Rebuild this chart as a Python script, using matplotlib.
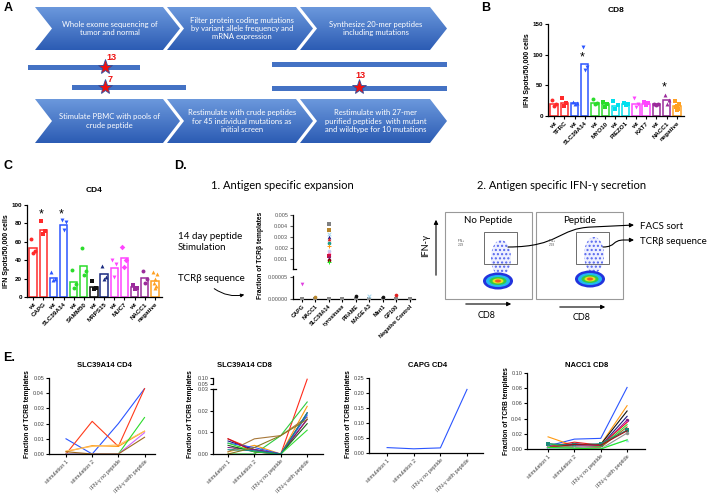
import numpy as np
import matplotlib
matplotlib.use('Agg')
import matplotlib.pyplot as plt
from matplotlib.patches import Polygon, Ellipse, Rectangle, FancyArrowPatch
from matplotlib.path import Path
from matplotlib.colors import LinearSegmentedColormap

plt.rcParams['font.family'] = ['Liberation Sans', 'DejaVu Sans']

# ---------------- data ----------------
# panel B (CD8 ELISpot)
b_labels = ['wt', 'TFRC', 'wt', 'SLC39A14', 'wt', 'MYO10', 'wt', 'PIEZO1',
            'wt', 'KAT7', 'wt', 'NACC1', 'negative']
b_means = [20, 22, 22, 85, 22, 19, 17, 19, 19, 20, 19, 26, 16]
b_points = [[26, 20, 16], [29, 22, 17], [23, 21, 19], [113, 80, 75],
            [28, 21, 19], [23, 19, 15], [24, 18, 12], [21, 19, 18],
            [30, 19, 14], [23, 21, 18], [20, 19, 18], [34, 26, 20],
            [25, 20, 16, 14, 12, 10]]
b_colors = ['#ff2a2a', '#ff2a2a', '#2b55ff', '#2b55ff', '#2bdc2b', '#2bdc2b',
            '#00e0ee', '#00e0ee', '#ff44ff', '#ff44ff', '#9b2b9b', '#9b2b9b', '#ffa020']
b_markers = ['o', 's', '^', 'v', 'o', 's', 's', 's', 'v', 's', 'o', '^', 's']
b_stars = [3, 11]

# panel C (CD4 ELISpot)
c_labels = ['wt', 'CAPG', 'wt', 'SLC39A14', 'wt', 'SAMM50', 'wt', 'MRPS15',
            'wt', 'MUC7', 'wt', 'NACC1', 'negative']
c_means = [53, 73, 21, 78, 16, 34, 11, 25, 31, 42, 11, 21, 17]
c_points = [[63, 50, 48], [83, 72, 68], [27, 20, 18], [84, 82, 73],
            [29, 14, 10], [53, 28, 24], [17, 10, 9], [34, 22, 20],
            [40, 36, 22], [54, 40, 33], [13, 10, 9], [28, 20, 15],
            [27, 25, 20, 15, 12, 10]]
c_colors = ['#ff2a2a', '#ff2a2a', '#2b55ff', '#2b55ff', '#2bdc2b', '#2bdc2b',
            '#111111', '#1a2a80', '#ff44ff', '#ff44ff', '#9b2b9b', '#9b2b9b', '#ffa020']
c_markers = ['o', 's', '^', 'v', 'o', 'o', 's', '^', 'v', 'D', 's', 'o', '^']
c_stars = [1, 3]

# panel D (TCRb fraction after 14 day stimulation)
d_labels = ['CAPG', 'NACC1', 'SLC39A14', 'tyrosinase', 'PRAME', 'MAGE A3',
            'Mart1', 'GP100', 'Negative Control']
d_high_vals = [0.0042, 0.0036, 0.0033, 0.0030, 0.0028, 0.0025, 0.0022,
               0.0017, 0.0015, 0.0013, 0.0011, 0.0009, 0.00075]
d_high_colors = ['#808080', '#b8862b', '#a8d8f0', '#1a1a90', '#e02020', '#1a9a8a',
                 '#ff9a10', '#c8c8f0', '#ff80c0', '#d01040', '#802080', '#800000', '#20ee20']
d_high_markers = ['s', 's', 'x', '^', '^', 'o', '+', 'o', 'o', 's', 'v', 'o', '+']
d_low_cat = [0, 1, 4, 5, 6, 7]
d_low_vals = [0.000035, 0.000005, 0.000007, 0.000007, 0.000004, 0.000008]
d_low_colors = ['#e040e0', '#b8862b', '#111111', '#a8d8f0', '#111111', '#e02020']
d_low_markers = ['v', 'o', 'o', 'x', 'o', 'o']

# panel E (TCRb clonotype tracking)
e_x = ['stimulation 1', 'stimulation 2', 'IFN-\u03b3 no peptide', 'IFN-\u03b3 with peptide']

e1_lines = [[0.010, 0.000, 0.020, 0.043],
            [0.000, 0.0215, 0.005, 0.043],
            [0.0015, 0.0055, 0.005, 0.015],
            [0.002, 0.005, 0.006, 0.015],
            [0.000, 0.000, 0.000, 0.024],
            [0.000, 0.000, 0.000, 0.014],
            [0.0015, 0.000, 0.000, 0.011]]
e1_colors = ['#2b55ff', '#ff3a1a', '#ff9a10', '#ffc060', '#2bdc2b', '#cc66ff', '#a06a20']

e2_lines = [[0.007, 0.002, 0.000, 0.090],
            [0.000, 0.000, 0.0085, 0.024],
            [0.001, 0.004, 0.000, 0.022],
            [0.001, 0.007, 0.0085, 0.017],
            [0.006, 0.002, 0.000, 0.019],
            [0.005, 0.003, 0.000, 0.018],
            [0.007, 0.001, 0.000, 0.016],
            [0.003, 0.002, 0.000, 0.016],
            [0.004, 0.001, 0.000, 0.014],
            [0.005, 0.001, 0.000, 0.011],
            [0.002, 0.0015, 0.000, 0.019],
            [0.000, 0.003, 0.0085, 0.016]]
e2_colors = ['#ff2a1a', '#2ecc40', '#ff9a10', '#a8783a', '#1a1a80', '#2b55ff',
             '#c01020', '#802080', '#1a6a1a', '#33dd33', '#1a8a8a', '#8a7a20']

e3_lines = [[0.018, 0.014, 0.017, 0.212]]
e3_colors = ['#2b55ff']

e4_lines = [[0.004, 0.013, 0.014, 0.081],
            [0.016, 0.004, 0.006, 0.057],
            [0.002, 0.006, 0.006, 0.050],
            [0.003, 0.007, 0.004, 0.043],
            [0.003, 0.005, 0.003, 0.038],
            [0.001, 0.004, 0.004, 0.036],
            [0.003, 0.009, 0.005, 0.035],
            [0.007, 0.002, 0.003, 0.032],
            [0.003, 0.002, 0.002, 0.029],
            [0.007, 0.005, 0.007, 0.025],
            [0.002, 0.006, 0.005, 0.024],
            [0.002, 0.003, 0.000, 0.021],
            [0.001, 0.001, 0.001, 0.012],
            [0.002, 0.001, 0.000, 0.012]]
e4_colors = ['#2b55ff', '#ff9a10', '#111111', '#1a1a80', '#802080', '#ff44ff',
             '#e02020', '#2bdc2b', '#a06a20', '#1a8a7a', '#a01010', '#909090',
             '#a8d8f0', '#20ee20']
e4_markers = [None, None, None, None, 'o', None, None, None, None, 's', None, 'o', '^', None]

# ---------------- figure ----------------
W, H = 711, 494
fig = plt.figure(figsize=(W / 100, H / 100), dpi=100)

ax0 = fig.add_axes([0, 0, 1, 1])
ax0.set_xlim(0, W)
ax0.set_ylim(H, 0)
ax0.axis('off')


def px_axes(l, t, r, b):
    ax = fig.add_axes([l / W, 1 - b / H, (r - l) / W, (b - t) / H])
    ax.patch.set_alpha(0)
    return ax


def style(ax, fs=4.5):
    for s in ['top', 'right']:
        ax.spines[s].set_visible(False)
    for s in ['left', 'bottom']:
        ax.spines[s].set_linewidth(0.9)
    ax.tick_params(length=2.5, width=0.8, labelsize=fs, pad=1)


DIAG = ['Lato', 'DejaVu Sans']

# ---------------- A: workflow ----------------
blue_cm = LinearSegmentedColormap.from_list('chev', ['#6b98dc', '#2c5cb4'])
grad = np.linspace(0, 1, 64)[:, None]


def chevron(x0, x1, y0, y1, text, depth=17):
    ym = (y0 + y1) / 2
    pts = [(x0, y0), (x1 - depth, y0), (x1, ym), (x1 - depth, y1), (x0, y1), (x0 + depth, ym)]
    poly = Polygon(pts, closed=True, facecolor='none', edgecolor='none')
    ax0.add_patch(poly)
    im = ax0.imshow(grad, cmap=blue_cm, extent=(x0, x1, y1, y0), aspect='auto', origin='upper')
    im.set_clip_path(poly)
    ax0.text((x0 + x1) / 2 + 2, ym, text, color='white', fontsize=5.5, ha='center', va='center',
             family=DIAG, linespacing=1.25)


row1 = ["Whole exome sequencing of\ntumor and normal",
        "Filter protein coding mutations\nby variant allele frequency and\nmRNA expression",
        "Synthesize 20-mer peptides\nincluding mutations"]
row2 = ["Stimulate PBMC with pools of\ncrude peptide",
        "Restimulate with crude peptides\nfor 45 individual mutations as\ninitial screen",
        "Restimulate with 27-mer\npurified peptides  with mutant\nand wildtype for 10 mutations"]
for (x0, x1), t1, t2 in zip([(35, 180), (167, 313), (300, 447)], row1, row2):
    chevron(x0, x1, 7, 50, t1)
    chevron(x0, x1, 99, 143, t2)

for (x, y, w) in [(28, 65, 112), (72, 85, 114), (272, 62, 175), (272, 86, 175)]:
    ax0.add_patch(Rectangle((x, y), w, 5, facecolor='#4472c4', edgecolor='none'))
for (x, y, lab, lx, ly) in [(105, 67, '13', 111, 57), (105, 87, '7', 110, 80), (359, 87, '13', 360, 76)]:
    ax0.plot(x, y, marker='*', ms=11, mfc='#ee1111', mec='#3050a0', mew=0.6)
    ax0.text(lx, ly, lab, color='#ee1111', fontsize=6.5, fontweight='bold', ha='center', va='center')

# panel letters
for lab, x, y in [('A', 8, 8), ('B', 486, 8), ('C', 8, 166), ('D.', 180, 166), ('E.', 9, 358)]:
    ax0.text(x, y, lab, fontsize=9, fontweight='bold', ha='center', va='center')


# ---------------- B & C: bar charts ----------------
JITTER = np.array([-0.2, 0.2, 0.0, -0.12, 0.12, 0.0])


def bar_panel(ax, labels, means, points, colors, markers, ymax, ystep, stars, star_y, title):
    x = np.arange(len(labels))
    ax.bar(x, means, width=0.72, facecolor='white', edgecolor=colors, linewidth=1.1, zorder=2)
    for i, pts in enumerate(points):
        ax.scatter(x[i] + JITTER[:len(pts)], pts, s=8, color=colors[i], marker=markers[i],
                   linewidths=0, zorder=3)
    for i, yy in zip(stars, star_y):
        ax.text(x[i] - 0.25, yy, '*', fontsize=9, ha='center', va='center')
    ax.set_xlim(-0.6, len(labels) - 0.3)
    ax.set_ylim(0, ymax)
    ax.set_yticks(np.arange(0, ymax + 1, ystep))
    ax.set_xticks(x)
    ax.set_xticklabels(labels, rotation=45, ha='right', rotation_mode='anchor',
                       fontsize=4.5, fontweight='bold')
    style(ax)
    for t in ax.get_yticklabels():
        t.set_fontweight('bold')
    ax.set_ylabel('IFN Spots/50,000 cells', fontsize=5, fontweight='bold', labelpad=1)
    ax.set_title(title, fontsize=6, fontweight='bold', pad=9)


axB = px_axes(548, 24, 684, 116)
bar_panel(axB, b_labels, b_means, b_points, b_colors, b_markers, 150, 50, b_stars, [96, 47], 'CD8')

axC = px_axes(27, 205, 162, 297)
bar_panel(axC, c_labels, c_means, c_points, c_colors, c_markers, 100, 20, c_stars, [90, 90], 'CD4')

# ---------------- D: schematic + scatter ----------------
ax0.text(282, 185, '1. Antigen specific expansion', fontsize=8, ha='center', va='center', family=DIAG)
ax0.text(178, 242, '14 day peptide\nStimulation', fontsize=7, ha='left', va='center',
         family=DIAG, linespacing=1.3)
ax0.text(178, 278, 'TCR\u03b2 sequence', fontsize=7, ha='left', va='center', family=DIAG)
ax0.add_patch(FancyArrowPatch((212, 287), (247, 294), connectionstyle='arc3,rad=0.25',
                              arrowstyle='-|>', mutation_scale=5, lw=0.7, color='black'))

xd = np.arange(len(d_labels))
axDh = px_axes(293, 215, 415, 269)
for v, c, m in zip(d_high_vals, d_high_colors, d_high_markers):
    axDh.scatter(2, v, s=7, color=c, marker=m, linewidths=0.7 if m in 'x+' else 0)
axDh.set_xlim(-0.65, 8.4)
axDh.set_ylim(0.0001, 0.005)
axDh.set_yticks([0.001, 0.002, 0.003, 0.004, 0.005])
axDh.set_yticklabels(['0.001', '0.002', '0.003', '0.004', '0.005'])
style(axDh, 4)
axDh.spines['bottom'].set_visible(False)
axDh.set_xticks([])
axDh.tick_params(axis='y', colors='#555555')
axDh.spines['left'].set_color('black')
axDh.plot([-0.65, -0.4], [0.0001, 0.0001], color='black', lw=0.9, clip_on=False)

axDl = px_axes(293, 276, 415, 299)
axDl.scatter(xd, np.zeros(len(xd)), s=8, color='#888888', marker='s', linewidths=0, zorder=3)
for i, v, c, m in zip(d_low_cat, d_low_vals, d_low_colors, d_low_markers):
    axDl.scatter(i, v, s=7, color=c, marker=m, linewidths=0.7 if m in 'x+' else 0, zorder=4)
axDl.set_xlim(-0.65, 8.4)
axDl.set_ylim(0, 0.0000523)
axDl.set_yticks([0, 0.00005])
axDl.set_yticklabels(['0.00000', '0.00005'])
axDl.set_xticks(xd)
axDl.set_xticklabels(d_labels, rotation=45, ha='right', rotation_mode='anchor',
                     fontsize=4.3, fontweight='bold')
style(axDl, 4)
axDl.tick_params(axis='y', colors='#555555')
axDl.spines['bottom'].set_clip_on(False)
fig.text(261 / W, 1 - 255 / H, 'Fraction of TCR\u03b2 templates', rotation=90, fontsize=4.8,
         fontweight='bold', ha='center', va='center')

# flow cytometry sketch
ax0.text(562, 185, '2. Antigen specific IFN-\u03b3 secretion', fontsize=8, ha='center', va='center',
         family=DIAG)
for bx0, title, gx0, bc, pc, lab in [(445, 'No Peptide', 484, (498, 281), (501, 258), 'IFN+\n2.29'),
                                      (536, 'Peptide', 576, (590, 279), (594, 255), 'IFN+\n2.93')]:
    ax0.add_patch(Rectangle((bx0, 212), 87, 87, facecolor='white', edgecolor='#999999', lw=0.8))
    ax0.text(bx0 + 43.5, 220, title, fontsize=7, ha='center', va='center', family=DIAG)
    ax0.add_patch(Ellipse(pc, 20, 36, facecolor='#eef0ff', edgecolor='#5566ee', hatch='....', lw=0))
    for (w, h, col) in [(30, 17, '#2233dd'), (24, 12, '#22b8f0'), (17, 8, '#33cc44'),
                        (11, 5, '#e8e020'), (6, 3, '#f05a20')]:
        ax0.add_patch(Ellipse(bc, w, h, facecolor=col, edgecolor='none'))
    ax0.add_patch(Rectangle((gx0, 232), 33, 32, facecolor='none', edgecolor='#555555', lw=0.6))
    ax0.text(bx0 + 16, 243, lab, fontsize=2.3, ha='center', va='center', color='#555555')

ax0.annotate('', xy=(436, 217), xytext=(436, 278),
             arrowprops=dict(arrowstyle='-|>', lw=0.8, color='black', mutation_scale=6))
ax0.text(426, 245, 'IFN-\u03b3', rotation=90, fontsize=6.5, ha='center', va='center', family=DIAG)
for (xa, xb, ya, xl, yl) in [(463, 514, 304, 487, 315), (557, 608, 307, 582, 317)]:
    ax0.annotate('', xy=(xb, ya), xytext=(xa, ya),
                 arrowprops=dict(arrowstyle='-|>', lw=0.8, color='black', mutation_scale=6))
    ax0.text(xl, yl, 'CD8', fontsize=6.5, ha='center', va='center', family=DIAG)

p1 = Path([(508, 247), (560, 247), (558, 228), (592, 227), (634, 225)],
          [Path.MOVETO, Path.CURVE4, Path.CURVE4, Path.CURVE4, Path.LINETO])
p2 = Path([(603, 247), (616, 247), (612, 240), (624, 240), (634, 240)],
          [Path.MOVETO, Path.CURVE4, Path.CURVE4, Path.CURVE4, Path.LINETO])
for p in [p1, p2]:
    ax0.add_patch(FancyArrowPatch(path=p, arrowstyle='-|>', mutation_scale=6, lw=0.8, color='black'))
ax0.text(640, 226, 'FACS sort', fontsize=7, ha='left', va='center', family=DIAG)
ax0.text(640, 241, 'TCR\u03b2 sequence', fontsize=7, ha='left', va='center', family=DIAG)


# ---------------- E: clonotype lines ----------------
def line_panel(ax, lines, colors, xlim, ylim, yticks, markers=None):
    xe = np.arange(len(e_x))
    for k, (vals, c) in enumerate(zip(lines, colors)):
        m = markers[k] if markers else None
        ax.plot(xe, vals, color=c, lw=0.8, marker=m, ms=2.5, mew=0)
    ax.set_xlim(*xlim)
    ax.set_ylim(*ylim)
    ax.set_yticks(yticks)
    ax.set_yticklabels(['%.2f' % t for t in yticks])
    style(ax, 4)
    ax.tick_params(labelcolor='#444444')
    ax.set_xticks(xe)
    ax.set_xticklabels(e_x, rotation=45, ha='right', rotation_mode='anchor', fontsize=4)


axE1 = px_axes(49, 378, 155, 454)
line_panel(axE1, e1_lines, e1_colors, (-0.65, 3.4), (0, 0.05), [0, 0.01, 0.02, 0.03, 0.04, 0.05])

# broken y axis: 0-0.03 full scale, gap 0.03-0.05 squeezed, 0.05-0.10 compressed
G1, G2 = 0.1154, 0.0554


def brk_fwd(y):
    y = np.asarray(y, dtype=float)
    return np.where(y <= 0.03, y,
                    np.where(y <= 0.05, 0.03 + (y - 0.03) * G1,
                             0.03 + 0.02 * G1 + (y - 0.05) * G2))


def brk_inv(u):
    u = np.asarray(u, dtype=float)
    b1 = 0.03 + 0.02 * G1
    return np.where(u <= 0.03, u,
                    np.where(u <= b1, 0.03 + (u - 0.03) / G1, 0.05 + (u - b1) / G2))


axE2 = px_axes(213, 378, 323, 454)
axE2.set_yscale('function', functions=(brk_fwd, brk_inv))
line_panel(axE2, e2_lines, e2_colors, (-0.57, 3.6), (0, 0.10), [0, 0.01, 0.02, 0.03, 0.05, 0.10])
axE2.spines['left'].set_bounds(0, 0.03)
axE2.plot([-0.57, -0.57], [0.05, 0.10], color='black', lw=0.9, clip_on=False)
axE2.plot([-0.57, -0.45], [0.03, 0.03], color='black', lw=0.9, clip_on=False)

axE3 = px_axes(369, 378, 483, 453)
line_panel(axE3, e3_lines, e3_colors, (-0.68, 3.6), (0, 0.25), [0, 0.05, 0.10, 0.15, 0.20, 0.25])

axE4 = px_axes(527, 373, 645, 449)
line_panel(axE4, e4_lines, e4_colors, (-0.8, 3.68), (0, 0.10), [0, 0.02, 0.04, 0.06, 0.08, 0.10],
           markers=e4_markers)

for x, t in [(104, 'SLC39A14 CD4'), (244, 'SLC39A14 CD8'), (428, 'CAPG CD4'), (587, 'NACC1 CD8')]:
    ax0.text(x, 365, t, fontsize=5.5, fontweight='bold', ha='center', va='center')
for x, y in [(28, 414), (191, 414), (349, 414), (506, 411)]:
    fig.text(x / W, 1 - y / H, 'Fraction of TCRB templates', rotation=90, fontsize=4.8,
             fontweight='bold', ha='center', va='center')

fig.savefig('out.png', dpi=100)
